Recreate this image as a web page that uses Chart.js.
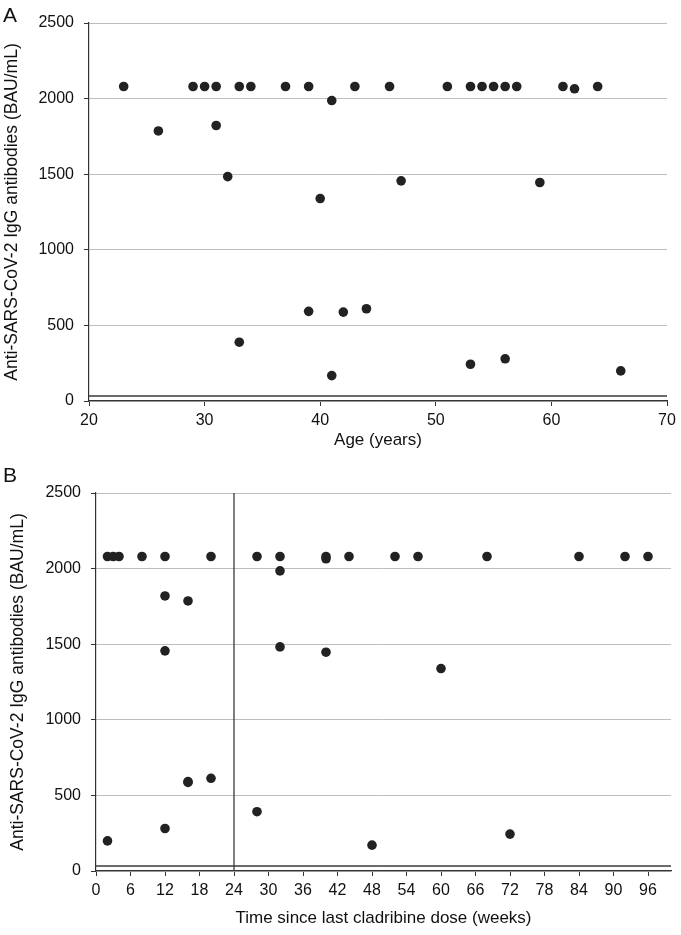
<!DOCTYPE html>
<html>
<head>
<meta charset="utf-8">
<script src="https://cdn.jsdelivr.net/npm/chart.js@4/dist/chart.umd.min.js"></script>
<style>
body { margin: 0; background: #fff; width: 681px; height: 935px; position: relative; overflow: hidden; font-family: "Liberation Sans", Arial, sans-serif; }
.box { position: absolute; left: 0; width: 681px; }
.tag { position: absolute; left: 3px; font-size: 21px; line-height: 21px; color: #111; z-index: 2; }
</style>
</head>
<body>
<div class="tag" style="top:4px">A</div>
<div class="box" style="top:0;height:465px"><canvas id="ageChart"></canvas></div>
<div class="tag" style="top:464px">B</div>
<div class="box" style="top:465px;height:470px"><canvas id="timeChart"></canvas></div>
<script>
// Panel A: titre against age
const ageYears = [23, 29, 30, 31, 33, 34, 37, 39, 43, 46, 51, 53, 54, 55, 56, 57, 61, 62, 64,
                  26, 31, 32, 40, 41, 47, 59,
                  33, 39, 41, 42, 44, 53, 56, 66];
const ageTiters = [2080, 2080, 2080, 2080, 2080, 2080, 2080, 2080, 2080, 2080, 2080, 2080, 2080, 2080, 2080, 2080, 2080, 2065, 2080,
                   1786, 1822, 1484, 1339, 1987, 1456, 1445,
                   389, 593, 168, 588, 610, 243, 279, 199];

// Panel B: titre against weeks since last cladribine dose
const weeksSinceDose = [2, 3, 4, 8, 12, 20, 28, 32, 40, 40, 44, 52, 56, 68, 84, 92, 96,
                        12, 16, 12, 32, 32, 40, 60,
                        2, 12, 16, 16, 20, 28, 48, 72];
const weeksTiters = [2080, 2080, 2080, 2080, 2080, 2080, 2080, 2080, 2065, 2080, 2080, 2080, 2080, 2080, 2080, 2080, 2080,
                     1819, 1786, 1456, 1985, 1482, 1447, 1339,
                     199, 281, 591, 586, 613, 392, 171, 244];

const ageTicks = [20, 30, 40, 50, 60, 70];
const weekTicks = [0, 6, 12, 18, 24, 30, 36, 42, 48, 54, 60, 66, 72, 78, 84, 90, 96];
const titerTicks = [0, 500, 1000, 1500, 2000, 2500];
const positivityCutoff = 33.8;
const doseMarkWeek = 24;

const yTitle = "Anti-SARS-CoV-2 IgG antibodies (BAU/mL)";
const font = { family: "'Liberation Sans', Arial, sans-serif", size: 16 };
const titleFont = { family: "'Liberation Sans', Arial, sans-serif", size: 17 };
const yTitleFont = { family: "'Liberation Sans', Arial, sans-serif", size: 17.5 };
const ink = "#222";

function toPoints(xs, ys) {
    return xs.map((x, i) => ({ x: x, y: ys[i] }));
}

// Build one scatter panel with the cut-off line (and an optional vertical marker).
function titerChart(canvas, opts) {
    let datasets = [
        {
            type: "line",
            data: [{ x: opts.xMin, y: positivityCutoff }, { x: opts.xMax, y: positivityCutoff }],
            borderColor: "#3a3a3a",
            borderWidth: 1.5,
            pointRadius: 0,
            order: 2
        },
        {
            data: toPoints(opts.xs, opts.ys),
            backgroundColor: ink,
            borderColor: ink,
            borderWidth: 0,
            pointRadius: 4.8,
            order: 1
        }
    ];
    if (opts.markX !== undefined) {
        datasets.push({
            type: "line",
            data: [{ x: opts.markX, y: 0 }, { x: opts.markX, y: 2500 }],
            borderColor: "#3a3a3a",
            borderWidth: 1.3,
            pointRadius: 0,
            order: 3
        });
    }

    return new Chart(canvas.getContext("2d"), {
        type: "scatter",
        data: { datasets: datasets },
        options: {
            responsive: true,
            maintainAspectRatio: false,
            animation: false,
            layout: { padding: { top: opts.top, right: opts.right, left: 0, bottom: 0 } },
            plugins: { legend: { display: false }, tooltip: { enabled: false } },
            scales: {
                x: {
                    type: "linear",
                    min: opts.xMin,
                    max: opts.xMax,
                    afterBuildTicks: (s) => { s.ticks = opts.xTicks.map(v => ({ value: v })); },
                    afterFit: (s) => { s.height = 64; },
                    grid: { drawOnChartArea: false, drawTicks: true, tickLength: 5, tickColor: "#333" },
                    border: { color: "#333", width: 1.2 },
                    ticks: { color: "#111", font: font, padding: 5, maxRotation: 0, autoSkip: false,
                             callback: (v) => String(v) },
                    title: { display: true, text: opts.xTitle, color: "#111", font: titleFont, padding: { top: 0, bottom: opts.xTitlePad } }
                },
                y: {
                    min: 0,
                    max: 2500,
                    afterBuildTicks: (s) => { s.ticks = titerTicks.map(v => ({ value: v })); },
                    afterFit: (s) => { s.width = opts.yWidth; },
                    grid: { color: "#bdbdbd", lineWidth: 1, tickLength: 5, tickColor: "#333" },
                    border: { color: "#333", width: 1.2 },
                    ticks: { color: "#111", font: font, padding: 10, callback: (v) => String(v) },
                    title: { display: true, text: yTitle, color: "#111", font: yTitleFont, padding: { top: opts.yTitlePad, bottom: 0 } }
                }
            }
        }
    });
}

titerChart(document.getElementById("ageChart"), {
    xs: ageYears, ys: ageTiters, xMin: 20, xMax: 70, xTicks: ageTicks,
    xTitle: "Age (years)", top: 23, right: 14, yWidth: 89, yTitlePad: 2, xTitlePad: 14
});

titerChart(document.getElementById("timeChart"), {
    xs: weeksSinceDose, ys: weeksTiters, xMin: 0, xMax: 100, xTicks: weekTicks,
    xTitle: "Time since last cladribine dose (weeks)", top: 28, right: 10, yWidth: 96, yTitlePad: 8, xTitlePad: 6,
    markX: doseMarkWeek
});
</script>
</body>
</html>
